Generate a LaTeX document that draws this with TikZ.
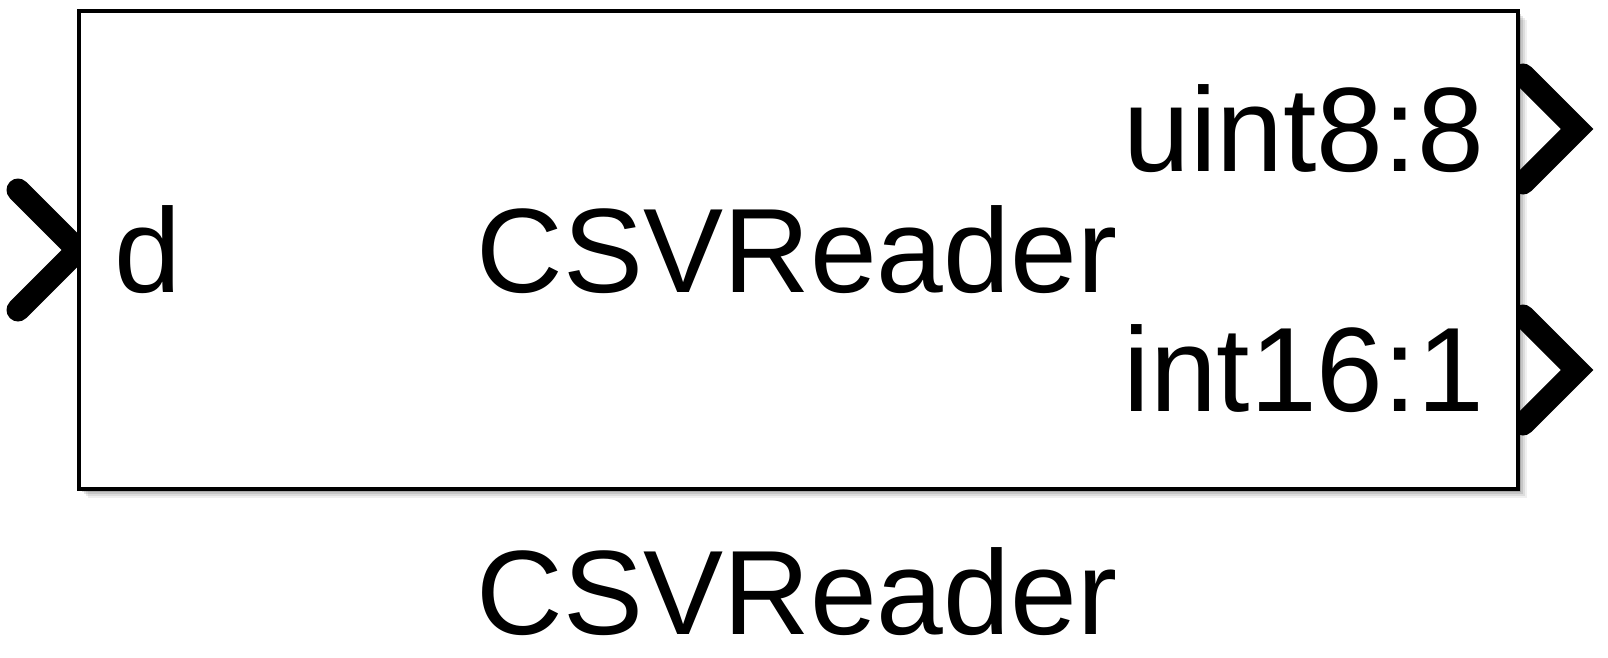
\documentclass[tikz,border=0pt]{standalone}
\usepackage{fontspec}
\setmainfont{Liberation Sans}
\begin{document}
\begin{tikzpicture}[x=1pt,y=-1pt,
  lbl/.style={inner sep=0pt,font=\fontsize{120}{120}\selectfont},
  port/.style={line width=23pt,line cap=round,line join=miter,draw=black},
  edge/.style={draw=black,line width=4pt}]
\useasboundingbox (0,0) rectangle (1608,658);
% soft shadow
\foreach \o/\op in {9/0.06,7/0.08,5/0.10,3/0.14}{
  \fill[black,opacity=\op] (79+\o,11+\o) rectangle (1518+\o,489+\o);
}
\node[fill=white,minimum width=1439pt,minimum height=478pt,anchor=north west,inner sep=0pt] (box) at (79,11) {};
% ports
\coordinate (inA) at (18,190);
\coordinate (inT) at (78,250);
\coordinate (inB) at (18,310);
\draw[port] (inA) -- (inT) -- (inB);
\coordinate (o1a) at (1523,75);
\coordinate (o1t) at (1577,129);
\coordinate (o1b) at (1523,183);
\draw[port] (o1a) -- (o1t) -- (o1b);
\coordinate (o2a) at (1523,316);
\coordinate (o2t) at (1577,370);
\coordinate (o2b) at (1523,424);
\draw[port] (o2a) -- (o2t) -- (o2b);
% cover port ends inside the block and draw its border
\fill[white] (box.north west) rectangle (box.south east);
\draw[edge] (box.north west) rectangle (box.south east);
% texts
\node[lbl,anchor=base west] (d) at (114,292) {d};
\node[lbl,anchor=base] (name) at (797,292) {CSVReader};
\node[lbl,anchor=base east] (o1) at (1484,171) {uint8:8};
\node[lbl,anchor=base east] (o2) at (1484,411) {int16:1};
\node[lbl,anchor=base] (title) at (797,634) {CSVReader};
\end{tikzpicture}
\end{document}
